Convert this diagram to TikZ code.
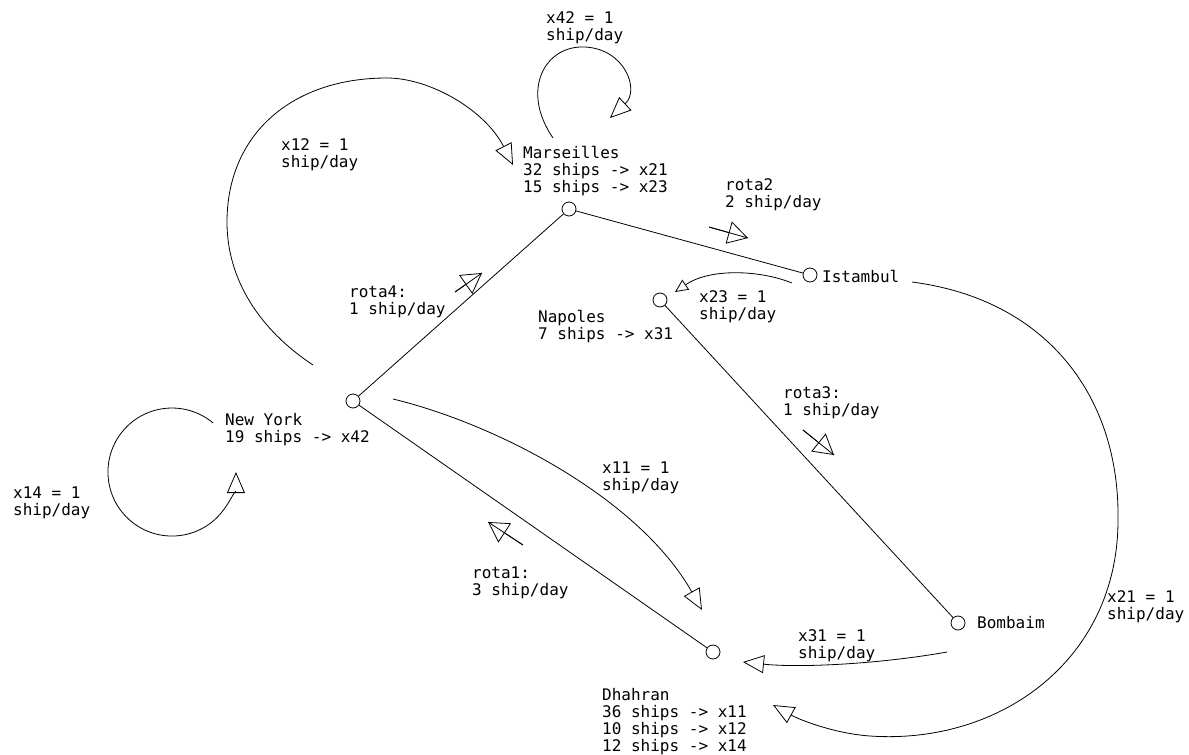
\documentclass[tikz,border=0pt]{standalone}
\usepackage{fontspec}
\setmainfont{DejaVu Sans Mono}
\usetikzlibrary{arrows.meta}
\begin{document}
\begin{tikzpicture}[x=1pt,y=-1pt,
  lbl/.style={anchor=base west, align=left, inner sep=0pt, font=\fontsize{16}{17.3}\selectfont},
  port/.style={circle, draw, minimum size=14pt, inner sep=0pt, line width=0.8pt},
  ln/.style={line width=0.8pt},
  arr/.style={ln, -{Triangle[open, length=21pt, width=18pt]}},
  sarr/.style={ln, -{Triangle[open, length=13pt, width=12pt]}},
  marr/.style={ln, -{Triangle[open, length=20pt, width=23pt]}}
]
\useasboundingbox (0,0) rectangle (1189,755);

% ports
\node[port] (mars) at (569,209) {};
\node[port] (ist)  at (810,275) {};
\node[port] (nap)  at (660,300) {};
\node[port] (ny)   at (353,401) {};
\node[port] (bom)  at (958,623) {};
\node[port] (dha)  at (713,652) {};

% routes
\draw[ln] (ny) -- (mars);
\draw[ln] (mars) -- (ist);
\draw[ln] (nap) -- (bom);
\draw[ln] (ny) -- (dha);

% labels (anchored at the baseline of their last line)
\node[lbl] (lmars) at (523,192.6) {Marseilles\\32 ships -> x21\\15 ships -> x23};
\node[lbl] (list)  at (822,282) {Istambul};
\node[lbl] (lnap)  at (538,339.3) {Napoles\\7 ships -> x31};
\node[lbl] (lny)   at (225,442.3) {New York\\19 ships -> x42};
\node[lbl] (lbom)  at (977,628) {Bombaim};
\node[lbl] (ldha)  at (602,751.9) {Dhahran\\36 ships -> x11\\10 ships -> x12\\12 ships -> x14};

\node[lbl] (t42) at (546,40.3)  {x42 = 1\\ship/day};
\node[lbl] (t12) at (281,167.3) {x12 = 1\\ship/day};
\node[lbl] (tr2) at (725,207.3) {rota2\\2 ship/day};
\node[lbl] (t23) at (699,319.3) {x23 = 1\\ship/day};
\node[lbl] (tr4) at (349,314.3) {rota4:\\1 ship/day};
\node[lbl] (tr3) at (783,415.3) {rota3:\\1 ship/day};
\node[lbl] (t14) at (13,515.3)  {x14 = 1\\ship/day};
\node[lbl] (t11) at (602,490.3) {x11 = 1\\ship/day};
\node[lbl] (tr1) at (472,595.3) {rota1:\\3 ship/day};
\node[lbl] (t31) at (798,658.3) {x31 = 1\\ship/day};
\node[lbl] (t21) at (1107,619.3) {x21 = 1\\ship/day};

% route direction markers
\coordinate (r2a) at (709,227); \coordinate (r2b) at (748,238);
\coordinate (r4a) at (455,292); \coordinate (r4b) at (482,273);
\coordinate (r3a) at (803,430); \coordinate (r3b) at (834,455);
\coordinate (r1a) at (523,545); \coordinate (r1b) at (488,522);
\foreach \m in {r2,r4,r3,r1}{
  \draw[ln] (\m a) -- (\m b);
  \draw[marr] (\m a) -- (\m b);
}

% flows
\coordinate (x42s) at (553,138); \coordinate (x42e) at (610,118);
\draw[arr] (x42s) .. controls (520,90) and (545,45) .. (585,47)
                  .. controls (625,49) and (640,90) .. (x42e);

\coordinate (x12s) at (313,365); \coordinate (x12e) at (513,165);
\draw[arr] (x12s) .. controls (260,330) and (227,280) .. (227,222)
                  .. controls (227,135) and (291,78) .. (387,78)
                  .. controls (430,78) and (485,110) .. (x12e);

\coordinate (x14s) at (213.1,423);
\draw[arr] (x14s) arc[start angle=-50, end angle=-360, radius=64];

\coordinate (x23s) at (792,283); \coordinate (x23e) at (675,292);
\draw[sarr] (x23s) .. controls (760,270) and (710,268) .. (x23e);

\coordinate (x11s) at (393,399); \coordinate (x11e) at (702,610);
\draw[arr] (x11s) .. controls (500,425) and (640,500) .. (x11e);

\coordinate (x21s) at (912,282); \coordinate (x21e) at (773,705);
\draw[arr] (x21s) .. controls (1050,300) and (1120,400) .. (1118,520)
                  .. controls (1118,660) and (1000,745) .. (870,736)
                  .. controls (835,733.6) and (800,720) .. (x21e);

\coordinate (x31s) at (947,652); \coordinate (x31e) at (743,662);
\draw[arr] (x31s) .. controls (880,664) and (800,668) .. (x31e);
\end{tikzpicture}
\end{document}
